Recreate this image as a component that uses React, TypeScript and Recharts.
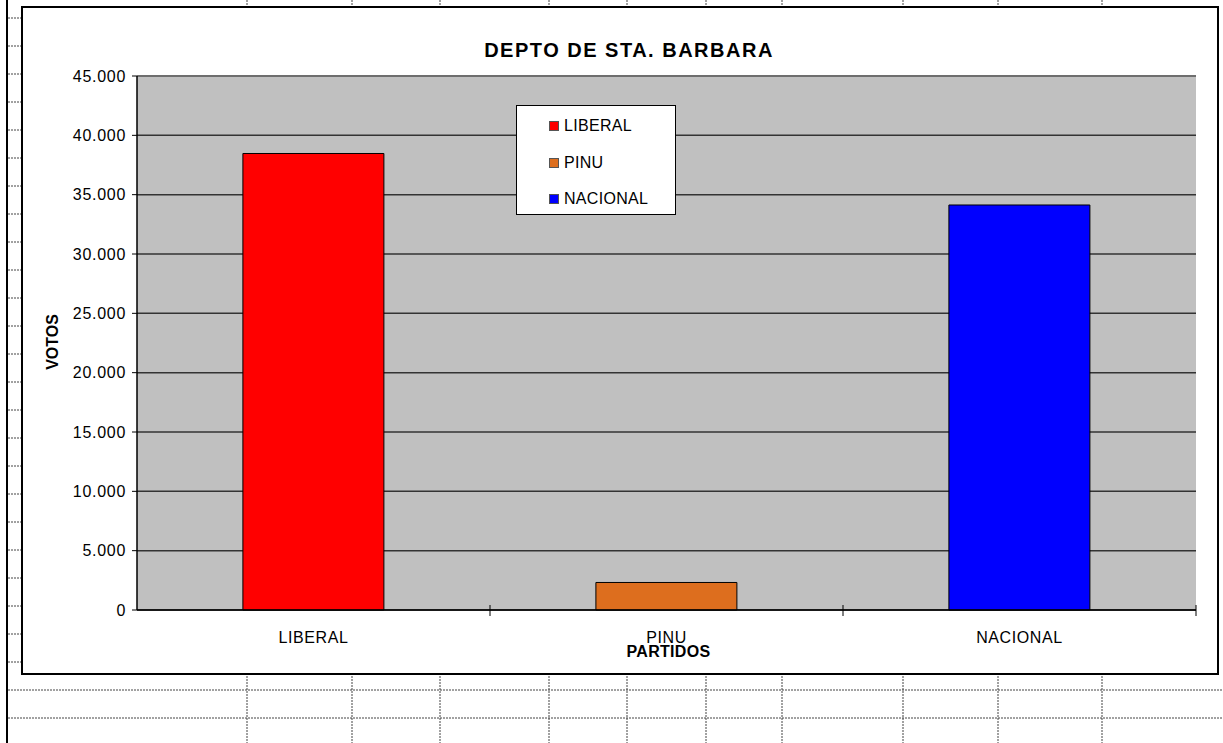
import { BarChart, Bar, Cell, XAxis, YAxis, CartesianGrid, ReferenceLine } from 'recharts'

const partidos = ['LIBERAL', 'PINU', 'NACIONAL']
const votos = [38470, 2320, 34130]
const colores = ['#ff0000', '#dd6e1e', '#0000ff']
const yTicks = [0, 5000, 10000, 15000, 20000, 25000, 30000, 35000, 40000, 45000]

// spreadsheet cell lines behind the chart
const rowLines = Array.from({ length: 26 }, (_, i) => 18 + i * 28)
const colLines = [247, 352, 440, 549, 627, 706, 782, 903, 998, 1102]

const data = partidos.map((p, i) => ({ partido: p, votos: votos[i] }))

const fmt = (v: number) => String(v).replace(/\B(?=(\d{3})+(?!\d))/g, '.')

const FONT = 'Arial, "Liberation Sans", Helvetica, sans-serif'

// category label plus tick marks on the band edges (Excel style)
function CategoryTick(props: any) {
  const { x, y, payload, index, visibleTicksCount } = props
  const half = payload.offset ?? 0
  const axisY = y - 22
  const last = index === visibleTicksCount - 1
  return (
    <g>
      {index > 0 && <line x1={x - half} x2={x - half} y1={axisY - 5} y2={axisY + 6} stroke="#000" />}
      {last && <line x1={x + half} x2={x + half} y1={axisY - 5} y2={axisY + 6} stroke="#000" />}
      <text x={x} y={y} dy="0.71em" textAnchor="middle" fontSize={16} letterSpacing={0.6} fill="#000">
        {payload.value}
      </text>
    </g>
  )
}

function LegendBox() {
  return (
    <div
      style={{
        position: 'absolute', left: 493, top: 97, width: 158, height: 108,
        background: '#fff', border: '1.5px solid #000', fontFamily: FONT,
      }}
    >
      {partidos.map((p, i) => (
        <div key={p} style={{ position: 'absolute', left: 32, top: 11 + i * 36.5, display: 'flex', alignItems: 'center', height: 18 }}>
          <span style={{ width: 8, height: 8, background: colores[i], border: '1px solid #555', display: 'inline-block' }} />
          <span style={{ marginLeft: 5, fontSize: 16, letterSpacing: 0.3, color: '#000' }}>{p}</span>
        </div>
      ))}
    </div>
  )
}

export default function App() {
  return (
    <div style={{ position: 'absolute', left: 0, top: 0, width: 1223, height: 743, background: '#fff', overflow: 'hidden' }}>
      <svg width={1223} height={743} style={{ position: 'absolute', left: 0, top: 0 }}>
        {rowLines.map((y) => (
          <line key={'r' + y} x1={8} x2={y > 676 ? 1223 : 22} y1={y} y2={y} stroke="#444" strokeWidth={1} strokeDasharray="2 1" />
        ))}
        {colLines.map((x) => (
          <g key={'c' + x}>
            <line x1={x} x2={x} y1={0} y2={7} stroke="#444" strokeDasharray="2 1" />
            <line x1={x} x2={x} y1={676} y2={743} stroke="#444" strokeDasharray="2 1" />
          </g>
        ))}
        <line x1={7} x2={7} y1={0} y2={743} stroke="#000" strokeWidth={2} />
      </svg>

      <div style={{ position: 'absolute', left: 21, top: 6, width: 1194, height: 665, border: '2px solid #000', background: '#fff' }}>
        <div
          style={{
            position: 'absolute', left: 0, width: 1212, top: 32, textAlign: 'center',
            fontFamily: FONT, fontWeight: 700, fontSize: 20, lineHeight: '20px', letterSpacing: 1.5, color: '#000',
          }}
        >
          DEPTO DE STA. BARBARA
        </div>

        <BarChart
          width={1194}
          height={665}
          data={data}
          margin={{ top: 68, right: 21, left: 0, bottom: 0 }}
          barCategoryGap="30%"
          style={{ position: 'absolute', left: 0, top: 0, fontFamily: FONT }}
        >
          <CartesianGrid vertical={false} stroke="#333" strokeWidth={1.5} fill="#c0c0c0" fillOpacity={1} />
          <XAxis
            dataKey="partido"
            height={63}
            axisLine={{ stroke: '#000', strokeWidth: 1.5 }}
            tickLine={false}
            tickSize={6}
            tickMargin={16}
            tick={<CategoryTick />}
            label={{
              content: () => (
                <text x={645.5} y={649} textAnchor="middle" fontSize={16} fontWeight={700} fill="#000" letterSpacing={0.3}>
                  PARTIDOS
                </text>
              ),
            }}
          />
          <YAxis
            width={114}
            domain={[0, 45000]}
            ticks={yTicks}
            interval={0}
            tickFormatter={fmt}
            tickSize={5}
            tickMargin={6}
            tick={{ fontSize: 16, fill: '#000', letterSpacing: 0.7 }}
            axisLine={{ stroke: '#000', strokeWidth: 1.5 }}
            tickLine={{ stroke: '#000' }}
            label={{
              content: () => (
                <text x={35} y={334} transform="rotate(-90 35 334)" textAnchor="middle" fontSize={16} fontWeight={700} fill="#000">
                  VOTOS
                </text>
              ),
            }}
          />
          <YAxis
            yAxisId="borde"
            orientation="right"
            width={0}
            domain={[0, 45000]}
            tick={false}
            tickLine={false}
            axisLine={{ stroke: '#8a8a8a', strokeWidth: 1.5 }}
          />
          <ReferenceLine y={45000} stroke="#6e6e6e" strokeWidth={2} />
          <Bar dataKey="votos" stroke="#000" strokeWidth={1} isAnimationActive={false}>
            {data.map((d, i) => (
              <Cell key={d.partido} fill={colores[i]} />
            ))}
          </Bar>
        </BarChart>
        <LegendBox />
      </div>
    </div>
  )
}
